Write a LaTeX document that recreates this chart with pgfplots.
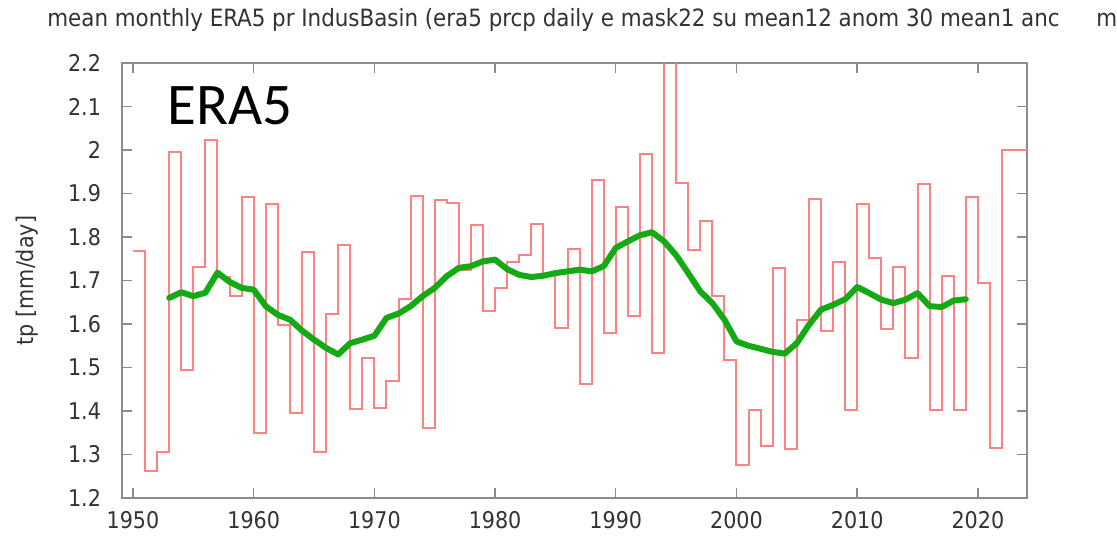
\documentclass[border=0pt]{standalone}
\usepackage{pgfplots}
\pgfplotsset{compat=1.18}
\usepackage{fontspec}
\setmainfont{DejaVu Sans Condensed}
\newfontfamily\carlito{Carlito}
\definecolor{redline}{RGB}{255,130,130}
\definecolor{greenline}{RGB}{20,170,20}
\definecolor{txt}{RGB}{50,50,50}
\definecolor{frame}{RGB}{140,140,140}
\begin{document}
\begin{tikzpicture}[x=1pt,y=1pt]
\path[use as bounding box] (0,0) rectangle (558.5,269);
\begin{axis}[
  at={(61pt,20pt)}, anchor=south west,
  scale only axis, width=452.5pt, height=217.5pt,
  xmin=1949.09, xmax=2024.07, ymin=1.2, ymax=2.2,
  xtick={1950,1960,...,2020},
  ytick={1.2,1.3,...,2.21},
  tick align=inside,
  major tick length=5pt,
  tick style={frame, line width=0.7pt},
  axis line style={frame, line width=1pt},
  /pgf/number format/assume math mode=true,
  xticklabel style={/pgf/number format/1000 sep={}, yshift=-3pt},
  yticklabel style={/pgf/number format/fixed, /pgf/number format/precision=1, xshift=-7pt},
  ticklabel style={font=\fontsize{11.5}{13}\selectfont, text=txt},
  ylabel={tp [mm/day]},
  every axis y label/.style={at={(axis description cs:-0.105,0.5)}, rotate=90, anchor=center, font=\fontsize{11.5}{13}\selectfont, text=txt},
  title={mean monthly ERA5 pr IndusBasin (era5 prcp daily e mask22 su mean12 anom 30 mean1 anc},
  every axis title/.style={at={(axis description cs:-0.0829,1.099)}, anchor=west, font=\fontsize{11.9}{13}\selectfont, text=txt, inner sep=0pt},
  clip=true,
]
\addplot[const plot, redline, line width=1pt] coordinates {
(1950,1.767) (1951,1.261) (1952,1.306) (1953,1.995) (1954,1.494) (1955,1.730)
(1956,2.024) (1957,1.708) (1958,1.665) (1959,1.893) (1960,1.349) (1961,1.877)
(1962,1.598) (1963,1.395) (1964,1.765) (1965,1.306) (1966,1.623) (1967,1.782)
(1968,1.405) (1969,1.523) (1970,1.407) (1971,1.468) (1972,1.657) (1973,1.895)
(1974,1.361) (1975,1.884) (1976,1.878) (1977,1.725) (1978,1.828) (1979,1.629)
(1980,1.683) (1981,1.742) (1982,1.759) (1983,1.830) (1984,1.716) (1985,1.591)
(1986,1.772) (1987,1.461) (1988,1.930) (1989,1.579) (1990,1.869) (1991,1.619)
(1992,1.991) (1993,1.533) (1994,2.350) (1995,1.924) (1996,1.771) (1997,1.836)
(1998,1.665) (1999,1.518) (2000,1.277) (2001,1.402) (2002,1.319) (2003,1.729)
(2004,1.313) (2005,1.610) (2006,1.887) (2007,1.583) (2008,1.742) (2009,1.403)
(2010,1.877) (2011,1.752) (2012,1.589) (2013,1.730) (2014,1.522) (2015,1.923)
(2016,1.402) (2017,1.710) (2018,1.402) (2019,1.893) (2020,1.694) (2021,1.315)
(2022,2.001) (2024.07,2.001)
};
\addplot[greenline, line width=3pt, line join=round, line cap=round] coordinates {
(1953,1.660) (1954,1.673) (1955,1.664) (1956,1.672) (1957,1.718) (1958,1.697)
(1959,1.683) (1960,1.679) (1961,1.641) (1962,1.621) (1963,1.610) (1964,1.585)
(1965,1.564) (1966,1.545) (1967,1.530) (1968,1.556) (1969,1.564) (1970,1.573)
(1971,1.614) (1972,1.624) (1973,1.641) (1974,1.664) (1975,1.683) (1976,1.710)
(1977,1.729) (1978,1.733) (1979,1.744) (1980,1.748) (1981,1.726) (1982,1.713)
(1983,1.708) (1984,1.711) (1985,1.717) (1986,1.721) (1987,1.725) (1988,1.721)
(1989,1.733) (1990,1.775) (1991,1.790) (1992,1.804) (1993,1.811) (1994,1.790)
(1995,1.758) (1996,1.717) (1997,1.675) (1998,1.648) (1999,1.610) (2000,1.560)
(2001,1.550) (2002,1.543) (2003,1.536) (2004,1.532) (2005,1.556) (2006,1.598)
(2007,1.633) (2008,1.644) (2009,1.657) (2010,1.685) (2011,1.671) (2012,1.656)
(2013,1.648) (2014,1.656) (2015,1.671) (2016,1.641) (2017,1.639) (2018,1.654)
(2019,1.657)
};
\node[anchor=base west, inner sep=0pt, font=\carlito\fontsize{29.5}{30}\selectfont] at (rel axis cs:0.0497,0.8575) {ERA5};
\end{axis}
\node[anchor=west, inner sep=0pt, font=\fontsize{11.9}{13}\selectfont, text=txt] at (548,259) {m};
\end{tikzpicture}
\end{document}
